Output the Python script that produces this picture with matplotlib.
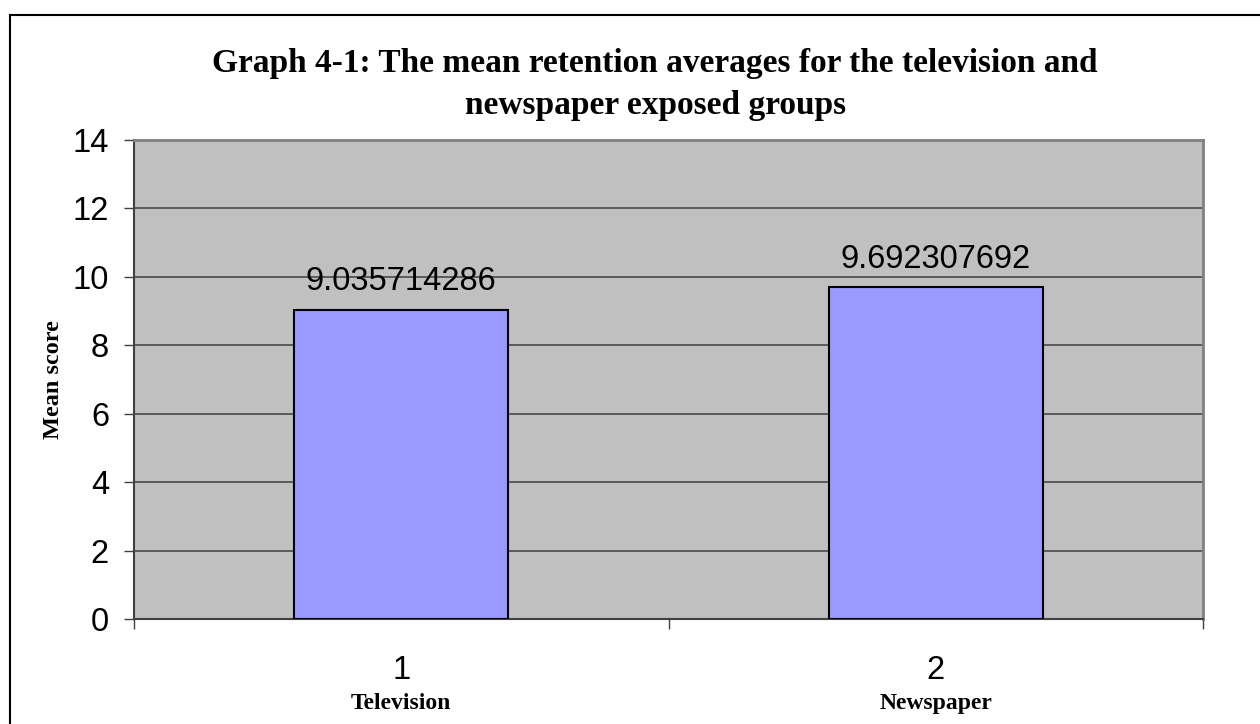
import numpy as np
import matplotlib.pyplot as plt
from matplotlib.lines import Line2D

# data
groups = [1, 2]
group_names = ["Television", "Newspaper"]
mean_scores = [9.035714286, 9.692307692]
value_labels = ["9.035714286", "9.692307692"]

barWidth = 0.4
sans = "Liberation Sans"
serif = "Liberation Serif"

fig = plt.figure(figsize=(12.6, 7.24), dpi=100)
ax = fig.add_axes([134/1260, 1-619/724, (1203-134)/1260, (619-140)/724])
ax.set_facecolor("#C0C0C0")

ax.bar(groups, mean_scores, width=barWidth, color="#9999FF", edgecolor="black",
       linewidth=1.5, zorder=3)

for g, v, lab in zip(groups, mean_scores, value_labels):
    ax.annotate(lab, xy=(g, v), xytext=(0, 9), textcoords="offset points",
                ha="center", va="bottom", fontsize=23.5, family=sans, zorder=4)

ax.set_xlim(0.5, 2.5)
ax.set_ylim(0, 14)
ax.set_yticks(np.arange(0, 15, 2))
ax.yaxis.grid(True, color="#404040", linewidth=1.1, zorder=0)
ax.set_axisbelow(True)

ax.tick_params(axis="y", direction="out", length=7, width=1, color="#404040",
               labelsize=23.5, pad=11)
for t in ax.get_yticklabels():
    t.set_family(sans)

# category boundaries as ticks, labels at centres
ax.set_xticks([0.5, 1.5, 2.5])
ax.set_xticklabels([])
ax.tick_params(axis="x", which="major", direction="out", length=7, width=1,
               color="#404040")
ax.set_xticks(groups, minor=True)
ax.set_xticklabels([str(g) for g in groups], minor=True, fontsize=23.5, family=sans)
ax.tick_params(axis="x", which="minor", length=0, pad=26)

for g, name in zip(groups, group_names):
    ax.annotate(name, xy=(g, 0), xycoords=("data", "axes fraction"),
                xytext=(0, -53), textcoords="offset points", ha="center", va="top",
                fontsize=17, fontweight="bold", family=serif)

ax.spines["left"].set_color("#404040")
ax.spines["left"].set_linewidth(1.5)
ax.spines["bottom"].set_color("#404040")
ax.spines["bottom"].set_linewidth(1.5)
ax.spines["top"].set_color("#808080")
ax.spines["top"].set_linewidth(2)
ax.spines["right"].set_color("#808080")
ax.spines["right"].set_linewidth(2)

ax.set_ylabel("Mean score", fontsize=17.5, fontweight="bold", family=serif, labelpad=6)

fig.text(0.52, 1-48/724, "Graph 4-1: The mean retention averages for the television and\nnewspaper exposed groups",
         ha="center", va="top", fontsize=24, fontweight="bold", family=serif,
         linespacing=1.45)

# outer frame (left and top edges)
fig.add_artist(Line2D([10/1260, 10/1260], [0, 1-15/724], color="black", linewidth=1.5,
                      transform=fig.transFigure))
fig.add_artist(Line2D([10/1260, 1], [1-15/724, 1-15/724], color="black", linewidth=1.5,
                      transform=fig.transFigure))

fig.savefig("out.png", dpi=100)
